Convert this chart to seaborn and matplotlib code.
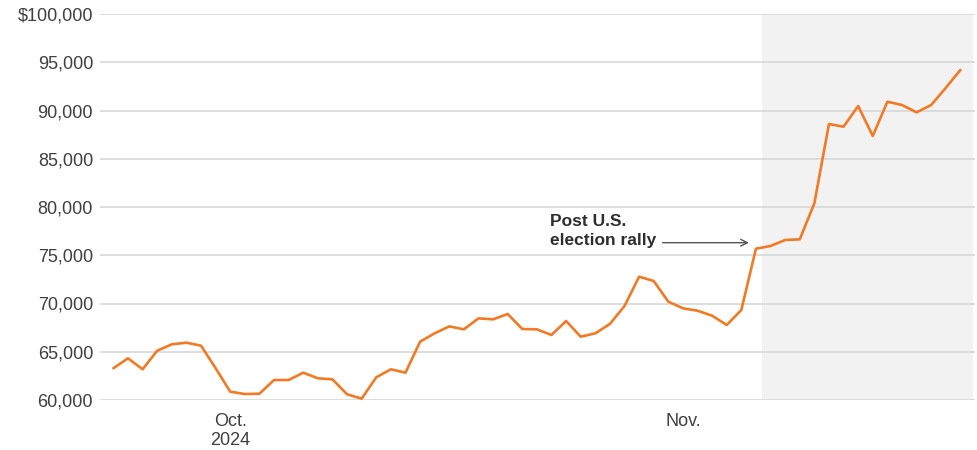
import pandas as pd
import seaborn as sns
import matplotlib.pyplot as plt
from matplotlib.ticker import FuncFormatter

# Daily closing price, Sep 23 - Nov 20, 2024
start_date = "2024-09-23"
prices = [
    63290, 64320, 63180, 65110, 65770, 65940, 65630, 63300,  # Sep 23-30
    60860, 60620, 60650, 62070, 62070, 62830, 62250, 62140,  # Oct 1-8
    60590, 60140, 62350, 63180, 62830, 66040, 66910, 67630,  # Oct 9-16
    67320, 68460, 68360, 68910, 67360, 67320, 66740, 68190,  # Oct 17-24
    66560, 66910, 67880, 69740, 72780, 72330, 70190,          # Oct 25-31
    69500, 69250, 68740, 67770, 69330, 75680, 75960, 76580,  # Nov 1-8
    76650, 80380, 88600, 88320, 90470, 87360, 90910, 90570,  # Nov 9-16
    89810, 90570, 92350, 94200,                              # Nov 17-20
]
y_ticks = [60000, 65000, 70000, 75000, 80000, 85000, 90000, 95000, 100000]
rally_start = "2024-11-06 10:00"
annotation = "Post U.S.\nelection rally"

df = pd.DataFrame({
    "date": pd.date_range(start_date, periods=len(prices), freq="D"),
    "price": prices,
})

sns.set_theme(style="white")
plt.rcParams["font.family"] = ["Liberation Sans", "DejaVu Sans"]

fig = plt.figure(figsize=(9.78, 4.5), dpi=100)
ax = fig.add_axes([100 / 978, 50 / 450, 875 / 978, 386 / 450])

# shaded post-election period
ax.axvspan(pd.Timestamp(rally_start), pd.Timestamp("2024-11-20 20:00"),
           ymin=0, ymax=1, color="#f2f2f2", zorder=0, lw=0)

sns.lineplot(data=df, x="date", y="price", ax=ax, color="#f07a25",
             linewidth=1.9, zorder=3)

ax.set_xlim(pd.Timestamp("2024-09-22 02:00"), pd.Timestamp("2024-11-21 00:00"))
ax.set_ylim(60000, 100000)
ax.set_yticks(y_ticks)
ax.yaxis.set_major_formatter(FuncFormatter(
    lambda v, p: f"${v:,.0f}" if v == 100000 else f"{v:,.0f}"))
ax.grid(axis="y", color="#d4d4d4", linewidth=1.1, zorder=1)
ax.set_axisbelow(True)

ax.set_xticks([pd.Timestamp("2024-10-01"), pd.Timestamp("2024-11-01")])
ax.set_xticklabels(["Oct.\n2024", "Nov."])

for s in ax.spines.values():
    s.set_visible(False)
ax.tick_params(axis="both", length=0, labelsize=13, colors="#3f3f3f")
ax.tick_params(axis="y", pad=5)
ax.tick_params(axis="x", pad=9)
ax.set_xlabel("")
ax.set_ylabel("")

ax.annotate("", xy=(pd.Timestamp("2024-11-05 17:00"), 76300),
            xytext=(pd.Timestamp("2024-10-30 10:00"), 76300),
            arrowprops=dict(arrowstyle="->", color="#555555", lw=1.0))
ax.text(pd.Timestamp("2024-10-22 21:00"), 75750, annotation, fontsize=12.5,
        fontweight="bold", color="#2e2e2e", va="bottom", ha="left",
        linespacing=1.35)

plt.savefig("out.png", dpi=100)
plt.close()
